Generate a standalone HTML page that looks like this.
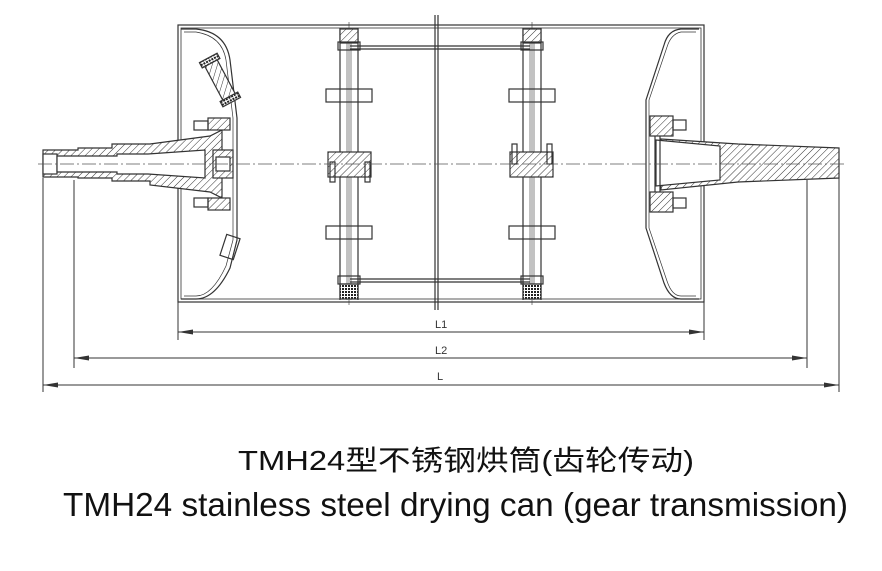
<!DOCTYPE html>
<html><head><meta charset="utf-8"><style>html,body{margin:0;padding:0;background:#fff}svg{display:block}</style></head>
<body>
<svg width="882" height="571" viewBox="0 0 882 571" xmlns="http://www.w3.org/2000/svg">
<defs>
<pattern id="h" width="5" height="5" patternUnits="userSpaceOnUse" patternTransform="rotate(45)">
<rect width="5" height="5" fill="#fff"/><line x1="0" y1="0" x2="0" y2="5" stroke="#333" stroke-width="1"/></pattern>
<pattern id="d" width="3" height="3" patternUnits="userSpaceOnUse"><rect width="3" height="3" fill="#fff"/><rect width="2" height="2" fill="#222"/></pattern>
</defs>
<g fill="none" stroke="#333" stroke-width="1.2">
<rect x="178" y="25" width="526" height="277"/>
<rect x="181" y="28" width="520" height="271" stroke-width="0.8"/>
<path d="M181 29 H196 Q226 32 230 60 L237 118 V240 L230 268 Q215 299 196 299 H181"/>
<path d="M184 32 H196 Q222 36 226 60 L233 118 V240 L226 266 Q212 296 196 296 H184" stroke-width="0.7"/>
<path d="M699 29 H681 Q668 30 664 45 L646 100 V228 L664 283 Q670 299 681 299 H699"/>
<path d="M696 32 H681 Q671 34 667 47 L649 100 V228 L667 281 Q672 296 681 296 H696" stroke-width="0.7"/>
<line x1="340" y1="28" x2="340" y2="300"/><line x1="358" y1="28" x2="358" y2="300"/>
<line x1="347" y1="28" x2="347" y2="300" stroke-width="0.6"/><line x1="351" y1="28" x2="351" y2="300" stroke-width="0.6"/>
<line x1="523" y1="28" x2="523" y2="300"/><line x1="541" y1="28" x2="541" y2="300"/>
<line x1="530" y1="28" x2="530" y2="300" stroke-width="0.6"/><line x1="534" y1="28" x2="534" y2="300" stroke-width="0.6"/>
<line x1="435" y1="15" x2="435" y2="310"/><line x1="438" y1="15" x2="438" y2="310"/>
<line x1="349" y1="22" x2="349" y2="305" stroke-width="0.6"/><line x1="532" y1="22" x2="532" y2="305" stroke-width="0.6"/>
<line x1="350" y1="46" x2="530" y2="46"/><line x1="350" y1="49" x2="530" y2="49"/>
<line x1="350" y1="279" x2="530" y2="279"/><line x1="350" y1="282" x2="530" y2="282"/>
<rect x="326" y="89" width="46" height="13"/><rect x="326" y="226" width="46" height="13"/>
<rect x="509" y="89" width="46" height="13"/><rect x="509" y="226" width="46" height="13"/>
<rect x="340" y="29" width="18" height="14" fill="url(#h)"/><rect x="523" y="29" width="18" height="14" fill="url(#h)"/>
<rect x="340" y="284" width="18" height="15" fill="url(#d)"/><rect x="523" y="284" width="18" height="15" fill="url(#d)"/>
<rect x="338" y="42" width="22" height="8"/><rect x="521" y="42" width="22" height="8"/>
<rect x="338" y="276" width="22" height="8"/><rect x="521" y="276" width="22" height="8"/>
<rect x="328" y="152" width="43" height="25" fill="url(#h)"/>
<rect x="510" y="152" width="43" height="25" fill="url(#h)"/>
<rect x="330" y="162" width="5" height="20"/><rect x="365" y="162" width="5" height="20"/>
<rect x="512" y="144" width="5" height="20"/><rect x="547" y="144" width="5" height="20"/>
<path d="M43 150 H78 V148 H112 V144 H150 L210 136 L222 130 V198 L210 192 L150 185 V181 H112 V178 H78 V177 H43 Z" fill="url(#h)"/>
<rect x="43" y="154" width="14" height="20" fill="#fff"/>
<path d="M57 156 H117 V154 H148 L205 150 V178 L148 174 H117 V172 H57 Z" fill="#fff"/>
<rect x="213" y="150" width="20" height="28" fill="url(#h)"/>
<rect x="216" y="157" width="14" height="14" fill="#fff"/>
<rect x="208" y="118" width="22" height="12" fill="url(#h)"/><rect x="208" y="198" width="22" height="12" fill="url(#h)"/>
<rect x="194" y="121" width="14" height="9"/><rect x="194" y="198" width="14" height="9"/>
<g transform="rotate(-28 220 80)"><rect x="213" y="57" width="14" height="46" fill="url(#h)"/><rect x="210" y="55" width="20" height="6" fill="url(#d)"/><rect x="210" y="99" width="20" height="6" fill="url(#d)"/></g>
<rect x="223" y="236" width="14" height="22" transform="rotate(18 230 247)"/>
<path d="M661 139 L738 144 L839 148 V178 L738 182 L661 190 Z" fill="url(#h)"/>
<path d="M656 140 L720 146 L720 180 L656 186 Z" fill="#fff"/>
<rect x="650" y="116" width="23" height="20" fill="url(#h)"/><rect x="650" y="192" width="23" height="20" fill="url(#h)"/>
<rect x="673" y="120" width="13" height="10"/><rect x="673" y="198" width="13" height="10"/>
<line x1="655" y1="136" x2="655" y2="192"/><line x1="660" y1="136" x2="660" y2="192"/>
</g>
<line x1="38" y1="164" x2="845" y2="164" stroke="#555" stroke-width="0.8" stroke-dasharray="14 3 2 3"/>
<g stroke="#333" stroke-width="1" fill="#333">
<line x1="178" y1="302" x2="178" y2="340"/><line x1="704" y1="302" x2="704" y2="340"/>
<line x1="74" y1="180" x2="74" y2="368"/><line x1="807" y1="180" x2="807" y2="368"/>
<line x1="43" y1="178" x2="43" y2="392"/><line x1="839" y1="178" x2="839" y2="392"/>
<line x1="178" y1="332" x2="704" y2="332"/><line x1="74" y1="358" x2="807" y2="358"/><line x1="43" y1="385" x2="839" y2="385"/>
<path d="M178 332 l15 -2.5 v5z M704 332 l-15 -2.5 v5z M74 358 l15 -2.5 v5z M807 358 l-15 -2.5 v5z M43 385 l15 -2.5 v5z M839 385 l-15 -2.5 v5z" stroke="none"/>
</g>
<g font-family="Liberation Sans, sans-serif" font-size="11" fill="#333">
<text x="435" y="328">L1</text><text x="435" y="354">L2</text><text x="437" y="380">L</text>
</g>
<text x="238" y="470" font-family="Liberation Sans, 'Noto Sans CJK SC', sans-serif" font-size="28" fill="#111" textLength="456" lengthAdjust="spacingAndGlyphs">TMH24型不锈钢烘筒(齿轮传动)</text>
<text x="63" y="516" font-family="Liberation Sans, sans-serif" font-size="33" fill="#111" textLength="785" lengthAdjust="spacingAndGlyphs">TMH24 stainless steel drying can (gear transmission)</text>
</svg>
</body></html>
